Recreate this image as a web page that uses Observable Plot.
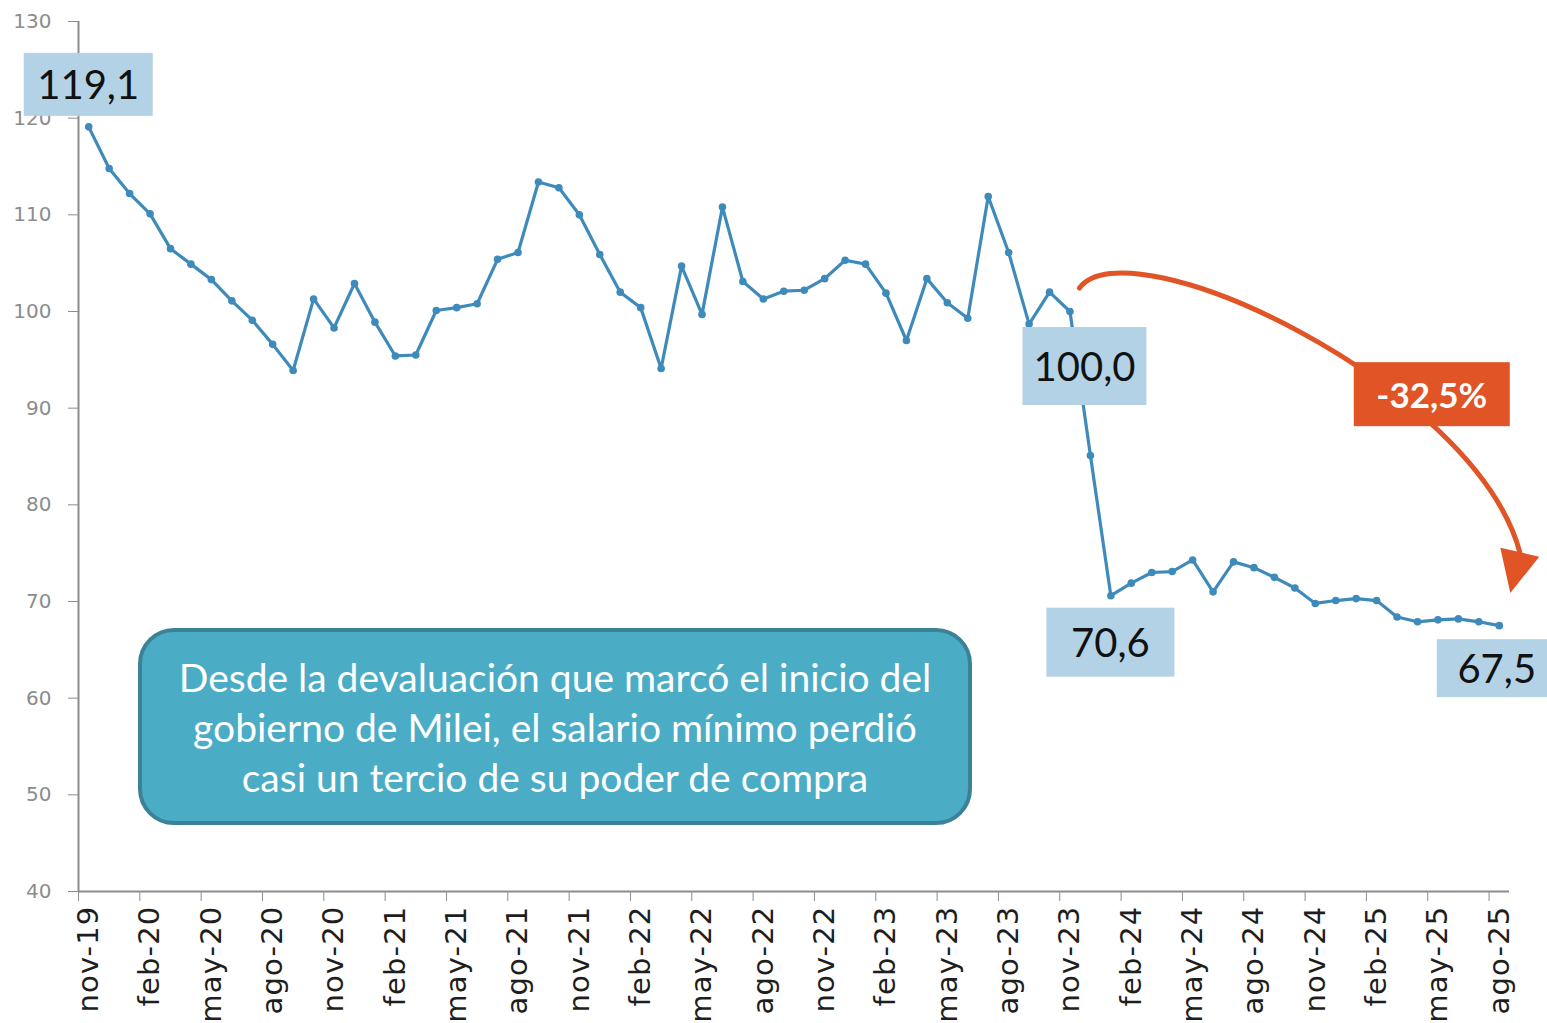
<!DOCTYPE html>
<html>
<head>
<meta charset="utf-8">
<script src="https://cdn.jsdelivr.net/npm/d3@7"></script>
<script src="https://cdn.jsdelivr.net/npm/@observablehq/plot@0.6"></script>
<style>
  html, body { margin: 0; padding: 0; background: #fff; }
  #wrap { position: relative; width: 1547px; height: 1023px; overflow: hidden; }
  #callout {
    position: absolute; left: 138px; top: 628px; width: 834px; height: 197px;
    box-sizing: border-box; border: 4px solid #3b8297; border-radius: 36px;
    background: #4bacc6; color: #fff; font-family: Lato, "Open Sans", sans-serif;
    font-size: 39px; line-height: 50px; text-align: center;
    display: flex; align-items: center; justify-content: center;
  }
</style>
</head>
<body>
<div id="wrap"></div>
<script>
// ---- data ----
const months = [
  "nov-19","dic-19",
  "ene-20","feb-20","mar-20","abr-20","may-20","jun-20","jul-20","ago-20","sep-20","oct-20","nov-20","dic-20",
  "ene-21","feb-21","mar-21","abr-21","may-21","jun-21","jul-21","ago-21","sep-21","oct-21","nov-21","dic-21",
  "ene-22","feb-22","mar-22","abr-22","may-22","jun-22","jul-22","ago-22","sep-22","oct-22","nov-22","dic-22",
  "ene-23","feb-23","mar-23","abr-23","may-23","jun-23","jul-23","ago-23","sep-23","oct-23","nov-23","dic-23",
  "ene-24","feb-24","mar-24","abr-24","may-24","jun-24","jul-24","ago-24","sep-24","oct-24","nov-24","dic-24",
  "ene-25","feb-25","mar-25","abr-25","may-25","jun-25","jul-25","ago-25"
];
const values = [
  119.1,114.8,112.2,110.1,106.5,104.9,103.3,101.1,99.1,96.6,
  93.9,101.3,98.3,102.9,98.9,95.4,95.5,100.1,100.4,100.8,
  105.4,106.1,113.4,112.8,110.0,105.9,102.0,100.4,94.1,104.7,
  99.7,110.8,103.1,101.3,102.1,102.2,103.4,105.3,104.9,101.9,
  97.0,103.4,100.9,99.3,111.9,106.1,98.7,102.0,100.0,85.1,
  70.6,71.9,73.0,73.1,74.3,71.0,74.1,73.5,72.5,71.4,
  69.8,70.1,70.3,70.1,68.4,67.9,68.1,68.2,67.9,67.5
];
const yTicks = [40, 50, 60, 70, 80, 90, 100, 110, 120, 130];
const labeledMonths = ["nov-19","feb-20","may-20","ago-20","nov-20","feb-21","may-21","ago-21","nov-21","feb-22","may-22","ago-22",
  "nov-22","feb-23","may-23","ago-23","nov-23","feb-24","may-24","ago-24","nov-24","feb-25","may-25","ago-25"];
const highlightMonths = ["nov-19","nov-23","ene-24","ago-25"];
const changeLabel = "-32,5%";
const calloutLines = [
  "Desde la devaluación que marcó el inicio del",
  "gobierno de Milei, el salario mínimo perdió",
  "casi un tercio de su poder de compra"
];

// ---- styles ----
const W = 1547, H = 1023;
const M = {left: 78, right: 38, top: 21, bottom: 132};
const lineColor = "#3e8bbb";
const axisGray = "#8c8c8c";
const orange = "#e05426";
const boxBlue = "#b3d2e5";
// per highlighted label: offset from point and box size (style only)
const labelStyle = [
  {dx: 0, dy: -42, w: 129, h: 63},
  {dx: 15, dy: 55, w: 124, h: 78},
  {dx: 0, dy: 47, w: 128, h: 69},
  {dx: -2, dy: 43, w: 120, h: 58}
];

const data = values.map((v, i) => ({i, v, m: months[i]}));
const labelIdx = labeledMonths.map(m => months.indexOf(m));
const tickBounds = labelIdx.map(i => i - 0.5);

const plot = Plot.plot({
  width: W, height: H,
  marginLeft: M.left, marginRight: M.right, marginTop: M.top, marginBottom: M.bottom,
  style: {fontFamily: "DejaVu Sans", background: "transparent", overflow: "visible"},
  x: {type: "linear", domain: [-0.5, months.length - 0.5]},
  y: {domain: [40, 130]},
  marks: [
    Plot.axisY({ticks: yTicks, tickSize: 10, tickPadding: 17, fontSize: 20, color: axisGray, label: null, fontFamily: "DejaVu Sans"}),
    Plot.axisX({ticks: tickBounds, tickSize: 10, tickFormat: () => "", color: axisGray, label: null}),
    Plot.axisX({ticks: labelIdx, tickSize: 0, tickPadding: 14, tickRotate: -90, tickFormat: i => months[i],
                fontSize: 29, fill: "#1e1e1e", label: null, fontFamily: "DejaVu Sans"}),
    Plot.ruleX([-0.5], {stroke: axisGray, strokeWidth: 2}),
    Plot.ruleY([40], {stroke: axisGray, strokeWidth: 2}),
    Plot.line(data, {x: "i", y: "v", stroke: lineColor, strokeWidth: 3.2}),
    Plot.dot(data, {x: "i", y: "v", r: 3.8, fill: lineColor, stroke: "none"})
  ]
});

const wrap = document.getElementById("wrap");
wrap.appendChild(plot);

// slightly widen the rotated month labels
d3.select(plot).selectAll("g[aria-label='x-axis tick label'] text").style("letter-spacing", "1.2px");

const xs = plot.scale("x"), ys = plot.scale("y");
const lin = (s, r) => (s && s.apply) ? (v => s.apply(v)) : d3.scaleLinear(s.domain, r);
const sx = lin(xs, [M.left, W - M.right]);
const sy = lin(ys, [H - M.bottom, M.top]);
const svg = d3.select(plot);
const fmt = v => v.toFixed(1).replace(".", ",");

// ---- arrow (anchored on nov-23 and ago-25 points) ----
const iStart = months.indexOf("nov-23"), iEnd = months.indexOf("ago-25");
const S = [sx(iStart) + 10, sy(values[iStart]) - 23];
const E = [sx(iEnd) + 21, sy(values[iEnd]) - 73];
const C1 = [S[0] + 48, S[1] - 66];
const C2 = [E[0] - 45, E[1] - 168];
const p = d3.path();
p.moveTo(S[0], S[1]);
p.bezierCurveTo(C1[0], C1[1], C2[0], C2[1], E[0], E[1]);
const ag = svg.append("g");
ag.append("path").attr("d", p.toString()).attr("fill", "none").attr("stroke", orange)
  .attr("stroke-width", 5).attr("stroke-linecap", "round");
const ang = 103 * Math.PI / 180;
const dir = [Math.cos(ang), Math.sin(ang)], perp = [-dir[1], dir[0]];
const hw = 20, hl = 42;
const head = [
  [E[0] + perp[0] * hw, E[1] + perp[1] * hw],
  [E[0] + dir[0] * hl, E[1] + dir[1] * hl],
  [E[0] - perp[0] * hw, E[1] - perp[1] * hw]
];
ag.append("path").attr("d", "M" + head.map(q => q.join(",")).join("L") + "Z").attr("fill", orange);

// change label box
const cg = svg.append("g");
const cx = E[0] - 88, cy = E[1] - 158;
cg.append("rect").attr("x", cx - 78).attr("y", cy - 32).attr("width", 156).attr("height", 64).attr("fill", orange);
cg.append("text").attr("x", cx).attr("y", cy).attr("text-anchor", "middle").attr("dominant-baseline", "central")
  .attr("fill", "#fff").style("font-family", "Lato, 'Open Sans', sans-serif").style("font-weight", "700")
  .style("font-size", "35px").text(changeLabel);

// ---- value labels ----
highlightMonths.forEach((m, k) => {
  const i = months.indexOf(m), st = labelStyle[k];
  const x = sx(i) + st.dx, y = sy(values[i]) + st.dy;
  const g = svg.append("g");
  g.append("rect").attr("x", x - st.w / 2).attr("y", y - st.h / 2).attr("width", st.w).attr("height", st.h).attr("fill", boxBlue);
  g.append("text").attr("x", x).attr("y", y).attr("text-anchor", "middle").attr("dominant-baseline", "central")
    .attr("fill", "#111").style("font-family", "Lato, 'Open Sans', sans-serif").style("font-size", "40px").text(fmt(values[i]));
});

// ---- callout ----
const callout = document.createElement("div");
callout.id = "callout";
const inner = document.createElement("div");
calloutLines.forEach((t, k) => {
  if (k) inner.appendChild(document.createElement("br"));
  inner.appendChild(document.createTextNode(t));
});
callout.appendChild(inner);
wrap.appendChild(callout);
</script>
</body>
</html>
